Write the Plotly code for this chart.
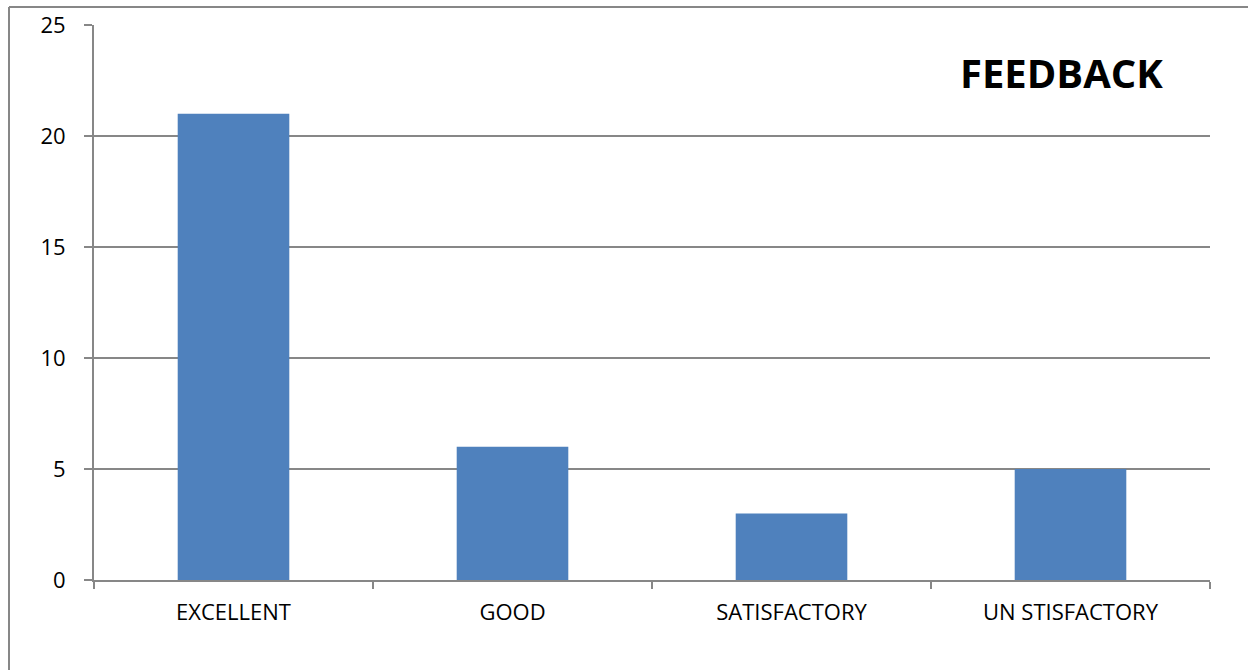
import plotly.graph_objects as go

categories = ["EXCELLENT", "GOOD", "SATISFACTORY", "UN STISFACTORY"]
values = [21, 6, 3, 5]
y_ticks = [0, 5, 10, 15, 20, 25]

GRAY = "#878787"
FONT = "Open Sans, Liberation Sans, sans-serif"

fig = go.Figure()
fig.add_trace(go.Bar(x=categories, y=values, marker=dict(color="#4F81BD", line=dict(width=0)),
                     width=0.4))

fig.update_layout(
    width=1248, height=670,
    margin=dict(l=94, r=38, t=25, b=90),
    paper_bgcolor="white", plot_bgcolor="white",
    showlegend=False,
    font=dict(family=FONT, color="black"),
)
fig.update_xaxes(
    showline=True, linecolor=GRAY, linewidth=2, automargin=False,
    ticks="outside", tickson="boundaries", ticklen=7, tickcolor=GRAY, tickwidth=2,
    tickfont=dict(size=22, family=FONT), ticklabelstandoff=12,
    showgrid=False,
)
fig.update_yaxes(
    range=[0, 25], tickvals=y_ticks, automargin=False,
    showline=True, linecolor=GRAY, linewidth=2,
    ticks="outside", ticklen=8, tickcolor=GRAY, tickwidth=2,
    tickfont=dict(size=22, family=FONT), ticklabelstandoff=14,
    showgrid=True, gridcolor=GRAY, gridwidth=2, zeroline=False,
)
fig.add_annotation(text="<b>FEEDBACK</b>", xref="paper", yref="paper", x=0.9597, y=0.915, xanchor="right",
                   yanchor="middle", showarrow=False, font=dict(size=40, family=FONT, color="black"))
# outer chart border (left and top edges visible)
fig.add_shape(type="line", xref="paper", yref="paper", x0=(9-94)/1116, x1=(1260-94)/1116,
              y0=(580-7)/555, y1=(580-7)/555, line=dict(color=GRAY, width=2))
fig.add_shape(type="line", xref="paper", yref="paper", x0=(9-94)/1116, x1=(9-94)/1116,
              y0=(580-7)/555, y1=(580-680)/555, line=dict(color=GRAY, width=2))

fig.write_html("out.html")
